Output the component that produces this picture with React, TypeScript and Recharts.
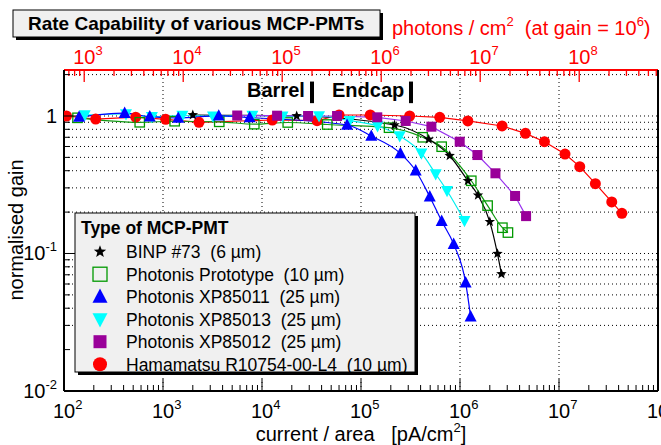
import React from "react";
import { ComposedChart, Line, XAxis, YAxis, ReferenceLine } from "recharts";

const FONT = '"Liberation Sans", Arial, Helvetica, sans-serif';

// current / area in pA/cm², gain normalised to 1
const binpCurrent = [2000, 22400, 218000, 483000, 787000, 1.2e6, 1.52e6, 2.0e6, 2.39e6, 2.62e6];
const binpGain = [1.017, 1.0, 0.86, 0.677, 0.514, 0.338, 0.265, 0.17, 0.0997, 0.071];

const protoCurrent = [137, 582, 1312, 3700, 8360, 18200, 45600, 192000, 420000, 653000, 1.3e6, 1.9e6, 2.68e6, 3.05e6];
const protoGain = [0.97, 0.9, 0.916, 0.907, 0.872, 0.897, 0.867, 0.822, 0.7, 0.598, 0.338, 0.223, 0.154, 0.142];

const xp011Current = [142, 410, 735, 1426, 3656, 7510, 72300, 127000, 250000, 357000, 495000, 653000, 863000, 1.14e6, 1.28e6];
const xp011Gain = [0.983, 1.05, 0.988, 0.967, 1.003, 0.975, 0.86, 0.715, 0.535, 0.4, 0.259, 0.172, 0.117, 0.0613, 0.0347];

const xp013Current = [162, 423, 773, 1570, 3200, 8000, 16100, 37700, 76900, 147000, 246000, 408000, 568000, 740000, 1.11e6];
const xp013Gain = [1.017, 1.034, 0.988, 1.008, 0.995, 1.008, 0.995, 1.0, 0.924, 0.846, 0.715, 0.536, 0.379, 0.286, 0.173];

const xp012Current = [5620, 14200, 29200, 57300, 146000, 283000, 514000, 993000, 1.5e6, 2.28e6, 3.6e6, 4.65e6];
const xp012Gain = [1.008, 1.005, 1.0, 1.0, 0.978, 0.92, 0.836, 0.65, 0.52, 0.383, 0.262, 0.187];

const hamaCurrent = [106, 209, 530, 1065, 2310, 12700, 36000, 60000, 124000, 310000, 624000, 1.2e6, 2.66e6, 4.58e6, 7.13e6, 1.15e7, 1.62e7, 2.33e7, 3.41e7, 4.32e7];
const hamaGain = [1.0, 0.95, 0.98, 0.946, 0.9, 0.935, 0.924, 1.017, 1.017, 1.0, 0.978, 0.92, 0.846, 0.748, 0.65, 0.529, 0.428, 0.322, 0.237, 0.196];

// axes
const xDomain = [100, 1e8];
const yDomain = [0.01, 2.16];
const photonsPerPA = 6.25; // photons/cm² per pA/cm² at gain 10^6
const topDomain = [xDomain[0] * photonsPerPA, xDomain[1] * photonsPerPA];
const decadesX = [1e2, 1e3, 1e4, 1e5, 1e6, 1e7, 1e8];
const decadesTop = [1e2, 1e3, 1e4, 1e5, 1e6, 1e7, 1e8];
const decadesY = [0.01, 0.1, 1];
const steps = [1, 2, 3, 4, 5, 6, 7, 8, 9];
const xGrid = [1e3, 1e4, 1e5, 1e6, 1e7];
const barrelEdge = 3.2e4;
const endcapEdge = 3.2e5;

const withMinors = (decs: number[], lo: number, hi: number) =>
  decs.flatMap((d) => steps.map((s) => s * d)).filter((v) => v >= lo * 0.999 && v <= hi * 1.001);

const xTicks = withMinors(decadesX, xDomain[0], xDomain[1]);
const topTicks = withMinors(decadesTop, topDomain[0], topDomain[1]);
const yTicks = withMinors(decadesY, yDomain[0], yDomain[1]);
const yGrid = yTicks.filter((v) => v > 0.025);

const isDecade = (v: number) => Math.abs(Math.log10(v) - Math.round(Math.log10(v))) < 1e-6;
const expOf = (v: number) => Math.round(Math.log10(v));

type Kind = "star" | "openSquare" | "triUp" | "triDown" | "square" | "circle";

const series = [
  { id: "binp", label: "BINP #73  (6 \u00b5m)", color: "#000000", line: "#000000", kind: "star" as Kind, curve: "monotone", xs: binpCurrent, ys: binpGain },
  { id: "proto", label: "Photonis Prototype  (10 \u00b5m)", color: "#009900", line: "#119911", kind: "openSquare" as Kind, curve: "monotone", xs: protoCurrent, ys: protoGain },
  { id: "xp011", label: "Photonis XP85011  (25 \u00b5m)", color: "#0000ff", line: "#0000ff", kind: "triUp" as Kind, curve: "monotone", xs: xp011Current, ys: xp011Gain },
  { id: "xp013", label: "Photonis XP85013  (25 \u00b5m)", color: "#00ffff", line: "#00eeee", kind: "triDown" as Kind, curve: "monotone", xs: xp013Current, ys: xp013Gain },
  { id: "xp012", label: "Photonis XP85012  (25 \u00b5m)", color: "#990099", line: "#9933ee", kind: "square" as Kind, curve: "linear", xs: xp012Current, ys: xp012Gain },
  { id: "hama", label: "Hamamatsu R10754-00-L4  (10 \u00b5m)", color: "#ff0000", line: "#ff0000", kind: "circle" as Kind, curve: "linear", xs: hamaCurrent, ys: hamaGain },
];
const drawOrder = ["hama", "proto", "binp", "xp013", "xp011", "xp012"];

function Marker({ kind, cx, cy, s, color }: { kind: Kind; cx: number; cy: number; s: number; color: string }) {
  if (cx == null || cy == null) return null;
  switch (kind) {
    case "circle":
      return <circle cx={cx} cy={cy} r={s} fill={color} />;
    case "square":
      return <rect x={cx - s} y={cy - s} width={2 * s} height={2 * s} fill={color} />;
    case "openSquare":
      return <rect x={cx - s} y={cy - s} width={2 * s} height={2 * s} fill="none" stroke={color} strokeWidth={1.3} />;
    case "triUp":
      return <polygon points={`${cx},${cy - s * 1.1} ${cx - s},${cy + s * 0.8} ${cx + s},${cy + s * 0.8}`} fill={color} />;
    case "triDown":
      return <polygon points={`${cx},${cy + s * 1.1} ${cx - s},${cy - s * 0.8} ${cx + s},${cy - s * 0.8}`} fill={color} />;
    default: {
      const pts: string[] = [];
      for (let i = 0; i < 10; i++) {
        const r = i % 2 === 0 ? s : s * 0.42;
        const a = -Math.PI / 2 + (i * Math.PI) / 5;
        pts.push(`${cx + r * Math.cos(a)},${cy + r * Math.sin(a)}`);
      }
      return <polygon points={pts.join(" ")} fill={color} />;
    }
  }
}

const chartSize: Record<Kind, number> = { star: 5.5, openSquare: 4.7, triUp: 6, triDown: 6, square: 5, circle: 5.5 };
const legendSize: Record<Kind, number> = { star: 6.5, openSquare: 7, triUp: 7.5, triDown: 7.5, square: 6.5, circle: 7 };

function Pow({ x, y, e, color, anchor }: { x: number; y: number; e: number; color: string; anchor?: "start" | "end" }) {
  if (e === 0) {
    return (
      <text x={x} y={y} fontSize={20} fill={color} fontFamily={FONT} textAnchor={anchor ?? "start"}>
        1
      </text>
    );
  }
  return (
    <text x={x} y={y} fontSize={20} fill={color} fontFamily={FONT} textAnchor={anchor ?? "start"}>
      10
      <tspan dy={-9} fontSize={13}>
        {e}
      </tspan>
    </text>
  );
}

function BottomTick(props: any) {
  const { x, y, payload } = props;
  const major = isDecade(payload.value);
  return (
    <g>
      <line x1={x} x2={x} y1={y} y2={y - (major ? 12 : 6)} stroke="#000" strokeWidth={1} />
      {major && <Pow x={x - 11} y={y + 27} e={expOf(payload.value)} color="#000" />}
    </g>
  );
}

function TopTick(props: any) {
  const { x, y, payload } = props;
  const major = isDecade(payload.value);
  return (
    <g>
      <line x1={x} x2={x} y1={y} y2={y + (major ? 12 : 6)} stroke="#ff0000" strokeWidth={1.3} />
      {major && <Pow x={x - 11} y={y - 6} e={expOf(payload.value)} color="#ff0000" />}
    </g>
  );
}

function LeftTick(props: any) {
  const { x, y, payload } = props;
  const major = isDecade(payload.value);
  return (
    <g>
      <line x1={x} x2={x + (major ? 12 : 6)} y1={y} y2={y} stroke="#000" strokeWidth={1} />
      {major && <Pow x={x - 7} y={y + 7} e={expOf(payload.value)} color="#000" anchor="end" />}
    </g>
  );
}

function Overlay() {
  return (
    <svg width={661} height={445} style={{ position: "absolute", left: 0, top: 0, pointerEvents: "none" }} fontFamily={FONT}>
      {/* title box */}
      <rect x={16} y={13} width={367} height={27} fill="#000" />
      <rect x={13} y={10} width={367} height={27} fill="#f0f0f0" stroke="#000" strokeWidth={1} />
      <text x={28} y={30} fontSize={19} fontWeight="bold" fill="#000">
        Rate Capability of various MCP-PMTs
      </text>
      <text x={392} y={35} fontSize={20} fill="#ff0000" style={{ whiteSpace: "pre" }}>
        {"photons / cm"}
        <tspan dy={-9} fontSize={13}>2</tspan>
        <tspan dy={9}>{"  (at gain = 10"}</tspan>
        <tspan dy={-9} fontSize={13}>6</tspan>
        <tspan dy={9}>)</tspan>
      </text>

      {/* barrel / endcap */}
      <text x={247} y={97} fontSize={20} fontWeight="bold">Barrel</text>
      <text x={332} y={97} fontSize={20} fontWeight="bold">Endcap</text>

      {/* axis titles */}
      <text x={361} y={441} fontSize={20} textAnchor="middle" style={{ whiteSpace: "pre" }}>
        {"current / area   [pA/cm"}
        <tspan dy={-9} fontSize={13}>2</tspan>
        <tspan dy={9}>]</tspan>
      </text>
      <text x={23} y={230} fontSize={20} textAnchor="middle" transform="rotate(-90 23 230)">
        normalised gain
      </text>

      {/* legend */}
      <rect x={78} y={216} width={340} height={159} fill="#000" />
      <rect x={75} y={213} width={340} height={159} fill="#f0f0f0" stroke="#000" strokeWidth={1} />
      <text x={81} y={234} fontSize={17.5} fontWeight="bold">Type of MCP-PMT</text>
      {series.map((s, i) => {
        const cy = 251.7 + i * 22.5;
        return (
          <g key={s.id}>
            <Marker kind={s.kind} cx={100} cy={cy} s={legendSize[s.kind]} color={s.color} />
            <text x={126} y={cy + 6.5} fontSize={17.5} style={{ whiteSpace: "pre" }}>
              {s.label}
            </text>
          </g>
        );
      })}
    </svg>
  );
}

export default function App() {
  const ordered = drawOrder.map((id) => series.find((s) => s.id === id)!);
  // same measurements expressed in photons/cm², only used to drive the top axis
  const photonData = hamaCurrent.map((x, i) => ({ x: x * photonsPerPA, g: hamaGain[i] }));
  return (
    <div style={{ position: "absolute", left: 0, top: 0, width: 661, height: 445, background: "#fff" }}>
      <ComposedChart width={661} height={445} margin={{ top: 0, right: 0, bottom: 0, left: 0 }}>
        <XAxis
          xAxisId="b"
          dataKey="x"
          type="number"
          scale="log"
          domain={xDomain}
          allowDataOverflow
          ticks={xTicks}
          interval={0}
          height={54}
          tickLine={false}
          tickSize={0}
          tickMargin={0}
          tick={(p: any) => <BottomTick {...p} />}
          axisLine={{ stroke: "#000", strokeWidth: 2 }}
        />
        <XAxis
          xAxisId="t"
          dataKey="x"
          orientation="top"
          type="number"
          scale="log"
          domain={topDomain}
          allowDataOverflow
          ticks={topTicks}
          interval={0}
          height={70}
          tickLine={false}
          tickSize={0}
          tickMargin={0}
          tick={(p: any) => <TopTick {...p} />}
          axisLine={{ stroke: "#ff0000", strokeWidth: 2 }}
        />
        <YAxis
          yAxisId="l"
          type="number"
          scale="log"
          domain={yDomain}
          allowDataOverflow
          ticks={yTicks}
          interval={0}
          width={64}
          tickLine={false}
          tickSize={0}
          tickMargin={0}
          tick={(p: any) => <LeftTick {...p} />}
          axisLine={{ stroke: "#000", strokeWidth: 2 }}
        />
        <YAxis
          yAxisId="r"
          orientation="right"
          type="number"
          scale="log"
          domain={yDomain}
          allowDataOverflow
          width={3}
          tick={false}
          tickLine={false}
          axisLine={{ stroke: "#000", strokeWidth: 2 }}
        />
        {yGrid.map((v) => (
          <ReferenceLine key={`gy${v}`} xAxisId="b" yAxisId="l" y={v} stroke="#000" strokeWidth={1} strokeDasharray="1 3" />
        ))}
        {xGrid.map((v) => (
          <ReferenceLine key={`gx${v}`} xAxisId="b" yAxisId="l" x={v} stroke="#000" strokeWidth={1} strokeDasharray="1 3" />
        ))}
        <ReferenceLine
          xAxisId="b"
          yAxisId="l"
          segment={[{ x: barrelEdge, y: 1.24 }, { x: barrelEdge, y: 1.78 }]}
          stroke="#000"
          strokeWidth={4}
        />
        <ReferenceLine
          xAxisId="b"
          yAxisId="l"
          segment={[{ x: endcapEdge, y: 1.24 }, { x: endcapEdge, y: 1.78 }]}
          stroke="#000"
          strokeWidth={4}
        />
        <Line
          xAxisId="t"
          yAxisId="l"
          data={photonData}
          dataKey="g"
          stroke="none"
          dot={false}
          activeDot={false}
          isAnimationActive={false}
        />
        {ordered.map((s) => (
          <Line
            key={s.id}
            xAxisId="b"
            yAxisId="l"
            data={s.xs.map((x, i) => ({ x, g: s.ys[i] }))}
            dataKey="g"
            type={s.curve as any}
            stroke={s.line}
            strokeWidth={1.2}
            isAnimationActive={false}
            activeDot={false}
            dot={(p: any) => (
              <Marker key={`${s.id}-${p.index}`} kind={s.kind} cx={p.cx} cy={p.cy} s={chartSize[s.kind]} color={s.color} />
            )}
          />
        ))}
      </ComposedChart>
      <Overlay />
    </div>
  );
}
